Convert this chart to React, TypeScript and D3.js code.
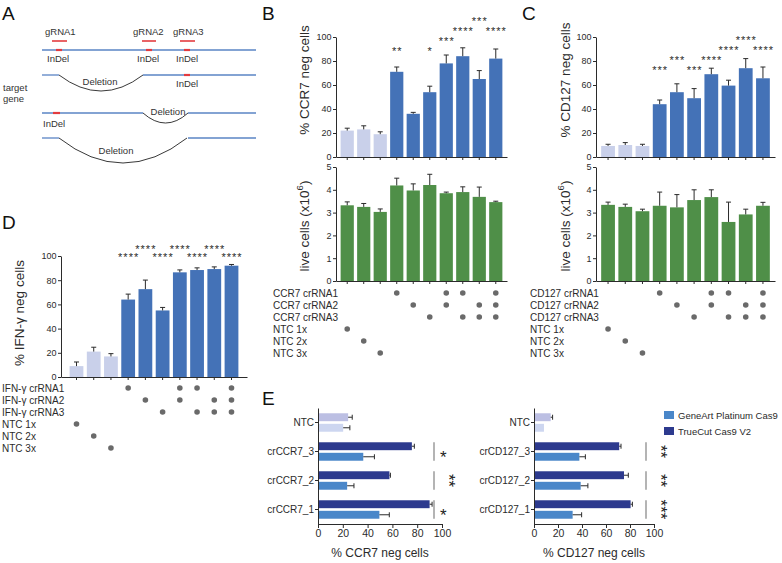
import { useRef, useEffect } from 'react'
import * as d3 from 'd3'

const FONT = "'Liberation Sans', Arial, Helvetica, sans-serif"
const INK = '#2b2b2b'
const NTC_FILL = '#c9d0ea'
const CR_FILL = '#4472b7'
const LIVE_FILL = '#4f8f48'
const DOT_FILL = '#6a6a6a'

// columns: 3 NTC controls, then the 7 crRNA combinations
const comboRows = ['crRNA1', 'crRNA2', 'crRNA3', 'NTC 1x', 'NTC 2x', 'NTC 3x']
const comboMembers = [[3], [4], [5], [0], [1], [2], [0, 1], [0, 2], [1, 2], [0, 1, 2]]
const pctTicks = [0, 20, 40, 60, 80, 100]
const liveTicks = [0, 1, 2, 3, 4, 5]

// B: CCR7
const ccr7Neg = [22, 23, 19, 71, 36, 54, 78, 84, 65, 82]
const ccr7NegErr = [2, 3, 2, 4, 1.2, 5, 7, 7, 7, 8]
const ccr7Live = [3.32, 3.25, 3.03, 4.19, 3.97, 4.21, 3.85, 3.9, 3.69, 3.46]
const ccr7LiveErr = [0.15, 0.15, 0.13, 0.32, 0.29, 0.47, 0.05, 0.23, 0.43, 0.04]
const ccr7Stars = ['', '', '', '**', '', '*', '***', '****', '***', '****']
const ccr7StarTier = [0, 0, 0, 0, 0, 0, 1, 2, 3, 2]

// C: CD127
const cd127Neg = [9.2, 10, 9.2, 44, 54, 49, 69, 59.5, 74, 65.6]
const cd127NegErr = [1.4, 2, 1.4, 3.5, 7, 8, 5, 4.5, 8, 9.4]
const cd127Live = [3.34, 3.25, 3.06, 3.3, 3.23, 3.55, 3.68, 2.59, 2.92, 3.3]
const cd127LiveErr = [0.12, 0.12, 0.09, 0.6, 0.56, 0.45, 0.32, 0.87, 0.23, 0.15]
const cd127Stars = ['', '', '', '***', '***', '***', '****', '****', '****', '****']
const cd127StarTier = [0, 0, 0, 0, 1, 0, 1, 2, 3, 2]

// D: IFN-γ
const ifngNeg = [9, 21, 17, 64, 72.6, 55, 86.5, 88.4, 89.2, 92]
const ifngNegErr = [3.4, 3.6, 2.3, 4.5, 7.5, 2.5, 2, 1.8, 1.8, 1]
const ifngStars = ['', '', '', '****', '****', '****', '****', '****', '****', '****']
const ifngStarTier = [0, 0, 0, 0, 1, 0, 1, 0, 1, 0]

// E: Cas9 comparison
const koGroupsCCR7 = ['NTC', 'crCCR7_3', 'crCCR7_2', 'crCCR7_1']
const koGroupsCD127 = ['NTC', 'crCD127_3', 'crCD127_2', 'crCD127_1']
const ccr7TrueCut = [24.3, 75.7, 57.6, 90]
const ccr7TrueCutErr = [3.3, 2, 0.8, 2]
const ccr7GeneArt = [20.3, 36.5, 23.5, 49.5]
const ccr7GeneArtErr = [5.4, 9, 5.5, 8]
const ccr7Sig = ['', '*', '**', '*']
const cd127TrueCut = [13.9, 71, 75, 80.5]
const cd127TrueCutErr = [1.6, 1.5, 3.6, 1.5]
const cd127GeneArt = [8.3, 37.8, 38.9, 32.2]
const cd127GeneArtErr = [0, 5, 6, 7.5]
const cd127Sig = ['', '**', '**', '***']
const koTicks = [0, 20, 40, 60, 80, 100]
const cas9Names = ['GeneArt Platinum Cas9', 'TrueCut Cas9 V2']
const cas9Colors = ['#4a87c9', '#2d3a8e']
const ntcColors = ['#bcbfe3', '#cdd6f0']

function styleAxis(a: any, size: number) {
  a.attr('font-family', FONT).attr('font-size', size)
  a.select('.domain').attr('stroke', INK)
  a.selectAll('.tick line').attr('stroke', INK)
  a.selectAll('.tick text').attr('fill', INK)
}

function vTitle(root: any, x: number, cy: number, label: string, sup?: string) {
  const t = root.append('text')
    .attr('transform', `translate(${x},${cy}) rotate(-90)`)
    .attr('text-anchor', 'middle')
    .attr('font-family', FONT)
    .attr('font-size', 13.5)
    .attr('fill', INK)
  t.append('tspan').text(label)
  if (sup) {
    t.append('tspan').attr('dy', -6).attr('font-size', 9.5).text(sup)
    t.append('tspan').attr('dy', 6).text(')')
  }
}

function columns(root: any, o: any) {
  const x = d3.scaleBand<number>()
    .domain(d3.range(o.values.length))
    .range([o.left, o.right])
    .paddingInner(0.2)
    .paddingOuter(o.padOuter)
  const y = d3.scaleLinear().domain([0, o.max]).range([o.bottom, o.top])
  const g = root.append('g')

  g.selectAll('rect')
    .data(o.values)
    .join('rect')
    .attr('x', (_: any, i: number) => x(i)!)
    .attr('width', x.bandwidth())
    .attr('y', (d: number) => y(d))
    .attr('height', (d: number) => y(0) - y(d))
    .attr('fill', (_: any, i: number) => o.fill(i))

  const eb = g.append('g').attr('stroke', INK).attr('stroke-width', 1)
  o.values.forEach((v: number, i: number) => {
    const cx = x(i)! + x.bandwidth() / 2
    const top = y(v + o.errs[i])
    eb.append('line').attr('x1', cx).attr('x2', cx).attr('y1', y(v)).attr('y2', top)
    eb.append('line').attr('x1', cx - 2.5).attr('x2', cx + 2.5).attr('y1', top).attr('y2', top)
  })

  const ya = g.append('g')
    .attr('transform', `translate(${o.left},0)`)
    .call(d3.axisLeft(y).tickValues(o.ticks).tickSize(3).tickSizeOuter(0).tickPadding(1.5)
      .tickFormat(d3.format('d')))
  styleAxis(ya, 9)

  const xa = g.append('g')
    .attr('transform', `translate(0,${o.bottom})`)
    .call(d3.axisBottom(x).tickSize(3).tickSizeOuter(0).tickFormat(() => ''))
  styleAxis(xa, 9)
  return x
}

function stars(root: any, x: any, marks: string[], tiers: number[], base: number, step: number) {
  root.append('g')
    .selectAll('text')
    .data(marks)
    .join('text')
    .attr('x', (_: any, i: number) => x(i)! + x.bandwidth() / 2 + 0.5)
    .attr('y', (_: any, i: number) => base + 6 - tiers[i] * step)
    .attr('text-anchor', 'middle')
    .attr('font-family', FONT)
    .attr('font-size', 11)
    .attr('letter-spacing', 1)
    .attr('fill', INK)
    .text((d: string) => d)
}

function combos(root: any, x: any, prefix: string, labelX: number, rowY: number) {
  const g = root.append('g')
  comboRows.forEach((r, j) => {
    g.append('text')
      .attr('x', labelX)
      .attr('y', rowY + j * 12 + 3.5)
      .attr('font-family', FONT)
      .attr('font-size', 10)
      .attr('fill', INK)
      .text(r.startsWith('NTC') ? r : `${prefix} ${r}`)
  })
  comboMembers.forEach((rows, i) => {
    rows.forEach(j => {
      g.append('circle')
        .attr('cx', x(i)! + x.bandwidth() / 2)
        .attr('cy', rowY + j * 12)
        .attr('r', 2.8)
        .attr('fill', DOT_FILL)
    })
  })
}

function knockout(root: any, o: any) {
  const g = root.append('g')
  const x = d3.scaleLinear().domain([0, 100]).range([o.left, o.right])
  const y = d3.scaleBand<string>().domain(o.groups).range([o.top, o.bottom])
  const inner = d3.scaleBand<number>().domain([0, 1]).range([0, y.bandwidth()]).paddingInner(0.25).paddingOuter(0.5)

  o.groups.forEach((grp: string, i: number) => {
    const vals = [o.trueCut[i], o.geneArt[i]]
    const errs = [o.trueCutErr[i], o.geneArtErr[i]]
    vals.forEach((v: number, k: number) => {
      const y0 = y(grp)! + inner(k)!
      const fill = i === 0 ? ntcColors[k] : cas9Colors[1 - k]
      g.append('rect').attr('x', x(0)).attr('y', y0).attr('width', x(v) - x(0))
        .attr('height', inner.bandwidth()).attr('fill', fill)
      if (errs[k] > 0) {
        const cy = y0 + inner.bandwidth() / 2
        g.append('line').attr('x1', x(v)).attr('x2', x(v + errs[k])).attr('y1', cy).attr('y2', cy)
          .attr('stroke', INK)
        g.append('line').attr('x1', x(v + errs[k])).attr('x2', x(v + errs[k]))
          .attr('y1', cy - 2.5).attr('y2', cy + 2.5).attr('stroke', INK)
      }
    })
    const s = o.sig[i]
    if (s) {
      const y1 = y(grp)! + inner(0)!
      const y2 = y(grp)! + inner(1)! + inner.bandwidth()
      g.append('line').attr('x1', o.right - 8).attr('x2', o.right - 8).attr('y1', y1).attr('y2', y2)
        .attr('stroke', '#8c8c8c').attr('stroke-width', 1.3)
      const cy = (y1 + y2) / 2
      g.append('text')
        .attr('transform', s.length > 1 ? `translate(${o.right + 1},${cy}) rotate(90)` : `translate(${o.right - 2},${cy + 11})`)
        .attr('text-anchor', s.length > 1 ? 'middle' : 'start')
        .attr('font-family', FONT).attr('font-size', 17).attr('fill', '#222')
        .text(s)
    }
  })

  const ya = g.append('g').attr('transform', `translate(${o.left},0)`)
    .call(d3.axisLeft(y).tickSize(3).tickSizeOuter(0).tickPadding(1))
  styleAxis(ya, 10)
  const xa = g.append('g').attr('transform', `translate(0,${o.bottom})`)
    .call(d3.axisBottom(x).tickValues(koTicks).tickSize(4).tickSizeOuter(0).tickPadding(2))
  styleAxis(xa, 10.5)

  g.append('text').attr('x', (o.left + o.right) / 2).attr('y', 557)
    .attr('text-anchor', 'middle').attr('font-family', FONT).attr('font-size', 12).attr('fill', INK)
    .text(o.title)
}

function screen(root: any, o: any) {
  const x = columns(root, {
    left: o.left, right: o.right, top: o.top, bottom: o.bottom, padOuter: o.padOuter,
    values: o.neg, errs: o.negErr, max: 100, ticks: pctTicks,
    fill: (i: number) => (i < 3 ? NTC_FILL : CR_FILL),
  })
  stars(root, x, o.stars, o.tiers, o.starBase, o.starStep)
  vTitle(root, o.titleX, o.titleY, `% ${o.gene} neg cells`)
  if (o.live) {
    columns(root, {
      left: o.left, right: o.right, top: 167, bottom: 281, padOuter: o.padOuter,
      values: o.live, errs: o.liveErr, max: 5, ticks: liveTicks,
      fill: () => LIVE_FILL,
    })
    vTitle(root, o.titleX, 226, 'live cells (x10', '6')
  }
  combos(root, x, o.gene, o.labelX, o.rowY)
}

function SchemeA() {
  const blue = '#5a84c4'
  const red = '#e23b3f'
  const seg = (x1: number, x2: number, y: number) => (
    <line x1={x1} x2={x2} y1={y} y2={y} stroke={blue} strokeWidth={1.3} />
  )
  const mark = (x1: number, x2: number, y: number) => (
    <line x1={x1} x2={x2} y1={y} y2={y} stroke={red} strokeWidth={2.2} />
  )
  return (
    <g fontFamily={FONT} fontSize={9.5} fill="#333">
      <text x={45} y={35}>gRNA1</text>
      <text x={133} y={35}>gRNA2</text>
      <text x={173} y={35}>gRNA3</text>
      <g stroke={red} strokeWidth={1.6}>
        <line x1={52} x2={67} y1={41} y2={41} />
        <line x1={142} x2={156} y1={41} y2={41} />
        <line x1={180} x2={195} y1={41} y2={41} />
      </g>
      {seg(42, 256, 50)}
      {mark(56, 62, 50)}
      {mark(146, 152, 50)}
      {mark(184, 190, 50)}
      <text x={47} y={62}>InDel</text>
      <text x={137} y={62}>InDel</text>
      <text x={176} y={62}>InDel</text>

      {seg(42, 59, 75)}
      <path d="M59,75 Q101,107 143,75" fill="none" stroke="#222" strokeWidth={0.9} />
      {seg(143, 256, 75)}
      {mark(184, 190, 75)}
      <text x={100} y={85} textAnchor="middle">Deletion</text>
      <text x={176} y={87}>InDel</text>

      <text x={3} y={91}>target</text>
      <text x={3} y={102}>gene</text>

      {seg(42, 143, 113)}
      <path d="M143,113 Q165.5,133 188,113" fill="none" stroke="#222" strokeWidth={0.9} />
      {seg(188, 256, 113)}
      {mark(53, 60, 113)}
      <text x={43} y={127}>InDel</text>
      <text x={168} y={115} textAnchor="middle">Deletion</text>

      {seg(42, 59, 138)}
      <path d="M59,138 Q123,188 187,138" fill="none" stroke="#222" strokeWidth={0.9} />
      {seg(188, 256, 138)}
      <text x={116} y={154} textAnchor="middle">Deletion</text>
    </g>
  )
}

export default function App() {
  const gRef = useRef<SVGGElement>(null)

  useEffect(() => {
    if (!gRef.current) return
    const root = d3.select(gRef.current)
    root.selectAll('*').remove()

    screen(root, {
      gene: 'CCR7', left: 336, right: 507, top: 37, bottom: 157, padOuter: 0.28,
      neg: ccr7Neg, negErr: ccr7NegErr, live: ccr7Live, liveErr: ccr7LiveErr,
      stars: ccr7Stars, tiers: ccr7StarTier, starBase: 49, starStep: 10,
      titleX: 309, titleY: 80, labelX: 273, rowY: 293,
    })
    screen(root, {
      gene: 'CD127', left: 596, right: 775, top: 37, bottom: 157, padOuter: 0.3,
      neg: cd127Neg, negErr: cd127NegErr, live: cd127Live, liveErr: cd127LiveErr,
      stars: cd127Stars, tiers: cd127StarTier, starBase: 68, starStep: 10,
      titleX: 570, titleY: 80, labelX: 530, rowY: 293,
    })
    screen(root, {
      gene: 'IFN-γ', left: 61, right: 247, top: 256, bottom: 377, padOuter: 0.5,
      neg: ifngNeg, negErr: ifngNegErr,
      stars: ifngStars, tiers: ifngStarTier, starBase: 255, starStep: 8,
      titleX: 24, titleY: 313, labelX: 2, rowY: 388,
    })

    knockout(root, {
      left: 318, right: 442, top: 408, bottom: 524, groups: koGroupsCCR7,
      trueCut: ccr7TrueCut, trueCutErr: ccr7TrueCutErr, geneArt: ccr7GeneArt, geneArtErr: ccr7GeneArtErr,
      sig: ccr7Sig, title: '% CCR7 neg cells',
    })
    knockout(root, {
      left: 534, right: 654, top: 408, bottom: 524, groups: koGroupsCD127,
      trueCut: cd127TrueCut, trueCutErr: cd127TrueCutErr, geneArt: cd127GeneArt, geneArtErr: cd127GeneArtErr,
      sig: cd127Sig, title: '% CD127 neg cells',
    })

    // legend
    const lg = root.append('g')
    cas9Names.forEach((n, i) => {
      lg.append('rect').attr('x', 664).attr('y', 411 + i * 16).attr('width', 10).attr('height', 8)
        .attr('fill', cas9Colors[i])
      lg.append('text').attr('x', 678).attr('y', 418.5 + i * 16)
        .attr('font-family', FONT).attr('font-size', 9.5).attr('fill', INK).text(n)
    })
  }, [])

  const letter = (t: string, x: number, y: number) => (
    <text x={x} y={y} fontFamily={FONT} fontSize={19} fill="#111">{t}</text>
  )

  return (
    <svg width={782} height={563} style={{ position: 'absolute', left: 0, top: 0 }}>
      <rect width={782} height={563} fill="#fff" />
      {letter('A', 2, 20)}
      {letter('B', 262, 20)}
      {letter('C', 522, 20)}
      {letter('D', 2, 229)}
      {letter('E', 262, 405)}
      <SchemeA />
      <g ref={gRef} />
    </svg>
  )
}
